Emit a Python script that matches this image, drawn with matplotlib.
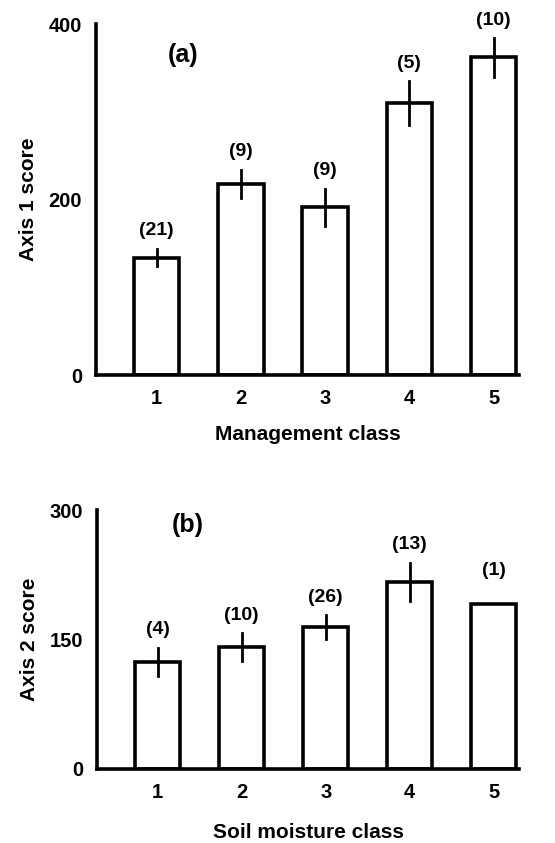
import matplotlib
matplotlib.use("Agg")
import matplotlib.pyplot as plt

plt.rcParams['font.family'] = ['Liberation Sans', 'DejaVu Sans']
plt.rcParams['font.weight'] = 'bold'

# Panel (a)
mgmt_classes = [1, 2, 3, 4, 5]
axis1_scores = [134, 218, 191, 310, 362]
axis1_err = [10, 16, 21, 25, 22]
axis1_n = ["(21)", "(9)", "(9)", "(5)", "(10)"]

# Panel (b)
soil_classes = [1, 2, 3, 4, 5]
axis2_scores = [124, 141, 164, 217, 191]
axis2_err = [16, 16, 14, 22, 0]
axis2_n = ["(4)", "(10)", "(26)", "(13)", "(1)"]

fig = plt.figure(figsize=(5.55, 8.43), dpi=100)
ax1 = fig.add_axes([0.173, 0.555, 0.762, 0.4165])
ax2 = fig.add_axes([0.175, 0.088, 0.760, 0.307])

def draw(ax, xs, vals, errs, ns, ymax, yticks, ylabel, xlabel, tag, tagpos, xlpad):
    ax.bar(xs, vals, width=0.54, facecolor='white', edgecolor='black', linewidth=2.6, zorder=2)
    for x, v, e in zip(xs, vals, errs):
        if e > 0:
            ax.plot([x, x], [v - e, v + e], color='black', linewidth=2.0, zorder=3)
    for x, v, e, n in zip(xs, vals, errs, ns):
        top = v + e
        off = 13 if e > 0 else 24
        ax.annotate(n, (x, top), xytext=(0, off), textcoords='offset points',
                    ha='center', va='center', fontsize=14, fontweight='bold')
    ax.set_xlim(0.28, 5.3)
    ax.set_ylim(0, ymax)
    ax.set_yticks(yticks)
    ax.set_xticks(xs)
    ax.tick_params(length=0, labelsize=14.5, pad=10)
    for lab in ax.get_xticklabels() + ax.get_yticklabels():
        lab.set_fontweight('bold')
    for s in ['top', 'right']:
        ax.spines[s].set_visible(False)
    for s in ['left', 'bottom']:
        ax.spines[s].set_linewidth(2.6)
    ax.set_ylabel(ylabel, fontsize=15, fontweight='bold', labelpad=8)
    ax.set_xlabel(xlabel, fontsize=15, fontweight='bold', labelpad=xlpad)
    ax.text(tagpos[0], tagpos[1], tag, fontsize=18, fontweight='bold', ha='center', va='center')

draw(ax1, mgmt_classes, axis1_scores, axis1_err, axis1_n, 400, [0, 200, 400],
     'Axis 1 score', 'Management class', '(a)', (1.31, 365), 12)
draw(ax2, soil_classes, axis2_scores, axis2_err, axis2_n, 300, [0, 150, 300],
     'Axis 2 score', 'Soil moisture class', '(b)', (1.36, 283), 15)

fig.savefig('out.png', dpi=100)
